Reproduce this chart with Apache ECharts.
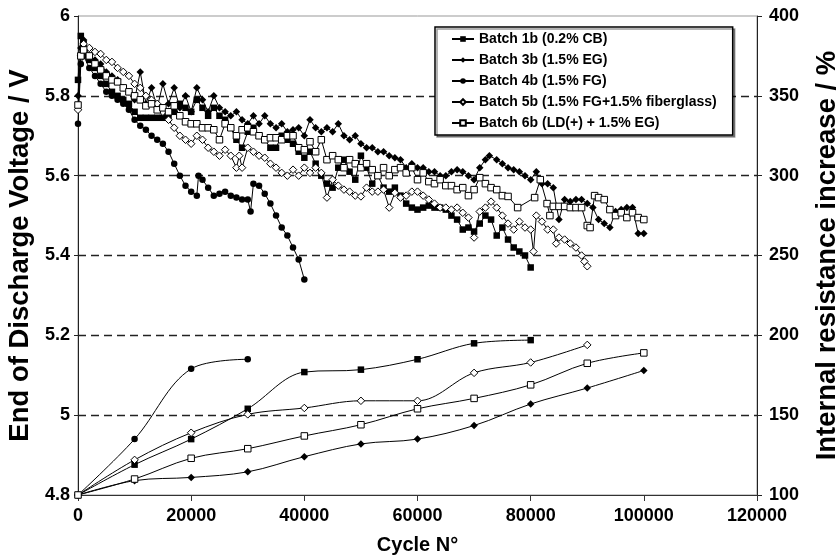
<!DOCTYPE html>
<html><head><meta charset="utf-8">
<script src="https://cdn.jsdelivr.net/npm/echarts@6/dist/echarts.min.js"></script>
<style>html,body{margin:0;padding:0;background:#fff}#c{width:838px;height:560px}</style>
</head><body><div id="c"></div>
<script>
// ---- names ----
const seriesNames = ['Batch 1b (0.2% CB)', 'Batch 3b (1.5% EG)', 'Batch 4b (1.5% FG)',
  'Batch 5b (1.5% FG+1.5% fiberglass)', 'Batch 6b (LD(+) + 1.5% EG)'];
const xTitle = 'Cycle N°';
const yLeftTitle = 'End of Discharge Voltage / V';
const yRightTitle = 'Internal resistance increase / %';
const xRange = [0, 120000, 20000];
const vRange = [4.8, 6, 0.2];
const rRange = [100, 400, 50];

// ---- end of discharge voltage (cycle, V) ----
const b1V = [[0,5.84],[500,5.95],[1000,5.93],[2000,5.89],[3000,5.87],[4000,5.85],[5000,5.83],[6000,5.81],[7000,5.80],[8000,5.79],[9000,5.78],[10000,5.76],[11000,5.745],[12000,5.745],[13000,5.745],[14000,5.745],[15000,5.745],[16000,5.745],[17000,5.76],[18000,5.78],[19000,5.77],[20000,5.76],[21000,5.79],[22000,5.77],[23000,5.75],[24000,5.77],[25000,5.75],[26000,5.74],[27000,5.72],[28000,5.69],[29000,5.67],[30000,5.71],[31000,5.72],[32000,5.70],[33000,5.69],[34000,5.67],[35000,5.67],[36000,5.70],[37000,5.69],[38000,5.68],[39000,5.66],[40000,5.645],[41000,5.66],[42000,5.63],[43000,5.60],[44000,5.58],[45000,5.57],[46000,5.62],[47000,5.64],[48000,5.61],[49000,5.59],[50000,5.65],[51000,5.62],[52000,5.58],[53000,5.60],[54000,5.57],[55000,5.56],[56000,5.57],[57000,5.55],[58000,5.53],[59000,5.52],[60000,5.515],[61000,5.52],[62000,5.525],[63000,5.52],[64000,5.52],[65000,5.515],[66000,5.50],[67000,5.49],[68000,5.465],[69000,5.47],[70000,5.46],[71000,5.48],[72000,5.50],[73000,5.49],[74000,5.45],[75000,5.47],[76000,5.44],[77000,5.42],[78000,5.41],[79000,5.40],[80000,5.37]];
const b3V = [[0,5.80],[500,5.92],[1000,5.94],[2000,5.90],[3000,5.89],[4000,5.88],[5000,5.86],[6000,5.85],[7000,5.84],[8000,5.82],[9000,5.81],[10000,5.79],[11000,5.86],[12000,5.78],[13000,5.82],[14000,5.77],[15000,5.83],[16000,5.78],[17000,5.82],[18000,5.77],[19000,5.80],[20000,5.76],[21000,5.82],[22000,5.79],[23000,5.76],[24000,5.80],[25000,5.77],[26000,5.76],[27000,5.75],[28000,5.76],[29000,5.74],[30000,5.73],[31000,5.75],[32000,5.73],[33000,5.75],[34000,5.73],[35000,5.72],[36000,5.73],[37000,5.71],[38000,5.715],[39000,5.72],[40000,5.70],[41000,5.74],[42000,5.72],[43000,5.71],[44000,5.72],[45000,5.71],[46000,5.73],[47000,5.70],[48000,5.69],[49000,5.70],[50000,5.68],[51000,5.67],[52000,5.67],[53000,5.66],[54000,5.66],[55000,5.65],[56000,5.645],[57000,5.64],[58000,5.62],[59000,5.63],[60000,5.62],[61000,5.62],[62000,5.61],[63000,5.61],[64000,5.60],[65000,5.60],[66000,5.61],[67000,5.615],[68000,5.61],[69000,5.60],[70000,5.59],[71000,5.62],[72000,5.64],[72700,5.65],[74000,5.64],[75000,5.63],[76000,5.62],[77000,5.615],[78000,5.61],[79000,5.60],[80000,5.59],[81000,5.61],[82000,5.58],[83000,5.58],[84000,5.57],[85000,5.49],[86000,5.54],[87000,5.535],[88000,5.54],[89000,5.54],[90000,5.53],[91000,5.52],[92000,5.49],[93000,5.48],[94000,5.47],[95000,5.51],[96000,5.515],[97000,5.52],[98000,5.52],[99000,5.455],[100000,5.455]];
const b4V = [[0,5.73],[500,5.88],[1000,5.90],[2000,5.87],[3000,5.85],[4000,5.83],[5000,5.81],[6000,5.80],[7000,5.79],[8000,5.78],[9000,5.765],[10000,5.74],[11000,5.725],[12000,5.715],[13000,5.70],[14000,5.69],[15000,5.68],[16000,5.66],[17000,5.63],[18000,5.60],[19000,5.575],[20000,5.56],[21000,5.55],[21300,5.60],[22000,5.59],[23000,5.57],[24000,5.55],[25000,5.555],[26000,5.56],[27000,5.55],[28000,5.545],[29000,5.54],[30000,5.54],[30500,5.51],[31000,5.58],[32000,5.575],[33000,5.555],[34000,5.53],[35000,5.50],[36000,5.47],[37000,5.45],[38000,5.42],[39000,5.39],[40000,5.34]];
const b5V = [[0,5.765],[500,5.90],[1000,5.93],[2000,5.92],[3000,5.91],[4000,5.905],[5000,5.89],[6000,5.885],[7000,5.87],[8000,5.86],[9000,5.85],[10000,5.83],[11000,5.82],[12000,5.80],[13000,5.79],[14000,5.78],[15000,5.76],[16000,5.74],[17000,5.72],[18000,5.70],[19000,5.69],[20000,5.68],[21000,5.70],[22000,5.69],[23000,5.67],[24000,5.66],[25000,5.65],[26000,5.665],[27000,5.65],[28000,5.62],[28500,5.65],[29000,5.62],[30000,5.67],[31000,5.66],[32000,5.65],[33000,5.645],[34000,5.63],[35000,5.62],[36000,5.607],[37000,5.60],[38000,5.615],[39000,5.60],[40000,5.62],[41000,5.607],[42000,5.62],[43000,5.607],[44000,5.545],[45000,5.59],[46000,5.575],[47000,5.565],[48000,5.56],[49000,5.55],[50000,5.548],[51000,5.57],[52000,5.56],[53000,5.56],[54000,5.565],[55000,5.52],[56000,5.557],[57000,5.545],[58000,5.55],[59000,5.56],[60000,5.56],[61000,5.55],[62000,5.54],[63000,5.53],[64000,5.52],[65000,5.52],[66000,5.515],[67000,5.52],[68000,5.507],[69000,5.495],[70000,5.445],[71000,5.51],[72000,5.52],[73000,5.535],[74000,5.52],[75000,5.50],[76000,5.48],[77000,5.465],[78000,5.485],[79000,5.47],[80000,5.465],[80500,5.41],[81000,5.50],[82000,5.485],[83000,5.465],[84000,5.465],[84500,5.43],[85000,5.445],[86000,5.44],[87000,5.43],[88000,5.42],[89000,5.40],[89500,5.385],[90000,5.373]];
const b6V = [[0,5.777],[500,5.90],[1000,5.915],[2000,5.90],[3000,5.88],[4000,5.865],[5000,5.85],[6000,5.84],[7000,5.835],[8000,5.82],[9000,5.81],[10000,5.80],[11000,5.79],[12000,5.775],[13000,5.78],[14000,5.765],[15000,5.77],[16000,5.76],[17000,5.775],[18000,5.75],[19000,5.735],[20000,5.73],[21000,5.73],[22000,5.72],[23000,5.72],[24000,5.715],[25000,5.69],[26000,5.73],[27000,5.72],[28000,5.70],[29000,5.715],[30000,5.72],[31000,5.71],[32000,5.70],[33000,5.69],[34000,5.695],[35000,5.695],[36000,5.69],[37000,5.70],[38000,5.70],[39000,5.67],[40000,5.665],[41000,5.685],[42000,5.66],[43000,5.69],[44000,5.64],[45000,5.65],[46000,5.64],[47000,5.62],[48000,5.64],[49000,5.63],[50000,5.62],[51000,5.63],[52000,5.615],[53000,5.60],[54000,5.62],[55000,5.60],[56000,5.615],[57000,5.62],[58000,5.607],[59000,5.62],[60000,5.59],[61000,5.607],[62000,5.585],[63000,5.58],[64000,5.59],[65000,5.575],[66000,5.575],[67000,5.565],[68000,5.57],[69000,5.55],[70000,5.565],[71000,5.595],[72000,5.58],[73000,5.57],[74000,5.565],[75000,5.55],[76000,5.548],[77700,5.52],[80700,5.545],[81700,5.59],[82900,5.53],[83400,5.50],[84000,5.523],[85000,5.523],[86000,5.523],[87000,5.52],[88000,5.52],[89000,5.52],[90000,5.475],[90500,5.47],[91300,5.55],[92000,5.545],[93000,5.54],[94000,5.515],[95000,5.50],[96000,5.507],[97000,5.495],[98000,5.507],[99000,5.495],[100000,5.49]];

// ---- internal resistance increase (cycle, %) ----
const b1R = [[0,100],[10000,119],[20000,135],[30000,154],[40000,177],[50000,178.5],[60000,185],[70000,195],[80000,197]];
const b3R = [[0,100],[10000,109],[20000,111],[30000,114.5],[40000,124],[50000,132],[60000,135],[70000,143.5],[80000,157],[90000,167],[100000,178]];
const b4R = [[0,100],[10000,135],[20000,179],[30000,185]];
const b5R = [[0,100],[10000,122],[20000,139],[30000,150.5],[40000,154.5],[50000,159],[60000,159],[70000,176.5],[80000,183],[90000,194]];
const b6R = [[0,100],[10000,110],[20000,123],[30000,129],[40000,137],[50000,144],[60000,154],[70000,160.5],[80000,169],[90000,182.5],[100000,189]];

const FONT = "'Liberation Sans', Arial, sans-serif";

const styles = [
  {symbol:'rect', size:6.5, fill:'#000'},
  {symbol:'diamond', size:7.5, fill:'#000'},
  {symbol:'circle', size:6.5, fill:'#000'},
  {symbol:'diamond', size:7.5, fill:'#fff'},
  {symbol:'rect', size:6.5, fill:'#fff'}
];
const voltData = [b1V, b3V, b4V, b5V, b6V];
const resData = [b1R, b3R, b4R, b5R, b6R];

function mk(i, data, axis, smooth) {
  const s = styles[i];
  return {
    name: seriesNames[i], type: 'line', yAxisIndex: axis, data: data,
    symbol: s.symbol, symbolSize: s.size, showSymbol: true, smooth: smooth,
    lineStyle: {color:'#000', width:1},
    itemStyle: {color: s.fill, borderColor:'#000', borderWidth: s.fill === '#fff' ? 1 : 0},
    emphasis: {disabled: true}, z: 2 + i
  };
}
const series = [];
voltData.forEach((d, i) => series.push(mk(i, d, 0, false)));
resData.forEach((d, i) => series.push(mk(i, d, 1, 0.35)));

const axisLabel = {fontFamily: FONT, fontWeight:'bold', fontSize:18, color:'#000', formatter: v => String(v)};
const chart = echarts.init(document.getElementById('c'), null, {renderer:'canvas'});
chart.setOption({
  animation: false,
  backgroundColor: '#fff',
  grid: {left:78, right:81, top:16, bottom:65, containLabel:false, outerBoundsMode:'none',
    show:true, borderColor:'#999', borderWidth:1, backgroundColor:'transparent'},
  legend: {
    left: 435, top: 27, orient:'vertical', data: seriesNames,
    backgroundColor:'#fff', borderColor:'#000', borderWidth:1.5,
    shadowColor:'rgba(0,0,0,0.4)', shadowOffsetX:2, shadowOffsetY:2, shadowBlur:0,
    padding:[5,16,5,16], itemGap:7, itemWidth:22, itemHeight:7,
    textStyle:{fontFamily: FONT, fontWeight:'bold', fontSize:14, color:'#000'}
  },
  xAxis: {
    type:'value', min:xRange[0], max:xRange[1], interval:xRange[2],
    name: xTitle, nameLocation:'middle', nameGap:40,
    nameTextStyle:{fontFamily: FONT, fontWeight:'bold', fontSize:20, color:'#000'},
    axisLine:{show:true, lineStyle:{color:'#333', width:1}},
    axisTick:{show:true, length:6, lineStyle:{color:'#333'}},
    axisLabel: Object.assign({margin:12}, axisLabel),
    splitLine:{show:false}
  },
  yAxis: [{
    type:'value', min:vRange[0], max:vRange[1], interval:vRange[2], position:'left',
    name: yLeftTitle, nameLocation:'middle', nameGap:44, nameRotate:90,
    nameTextStyle:{fontFamily: FONT, fontWeight:'bold', fontSize:27.5, color:'#000'},
    axisLine:{show:true, lineStyle:{color:'#222', width:1}},
    axisTick:{show:true, length:4, lineStyle:{color:'#222'}},
    axisLabel: Object.assign({margin:8}, axisLabel),
    splitLine:{show:true, showMinLine:false, showMaxLine:false, lineStyle:{color:'#222', width:1.3, type:[8,5]}}
  }, {
    type:'value', min:rRange[0], max:rRange[1], interval:rRange[2], position:'right',
    name: yRightTitle, nameLocation:'middle', nameGap:56, nameRotate:90,
    nameTextStyle:{fontFamily: FONT, fontWeight:'bold', fontSize:27.5, color:'#000'},
    axisLine:{show:true, lineStyle:{color:'#222', width:1}},
    axisTick:{show:true, length:5, lineStyle:{color:'#222'}},
    axisLabel: Object.assign({margin:12}, axisLabel),
    splitLine:{show:false}
  }],
  series: series
});
</script></body></html>
